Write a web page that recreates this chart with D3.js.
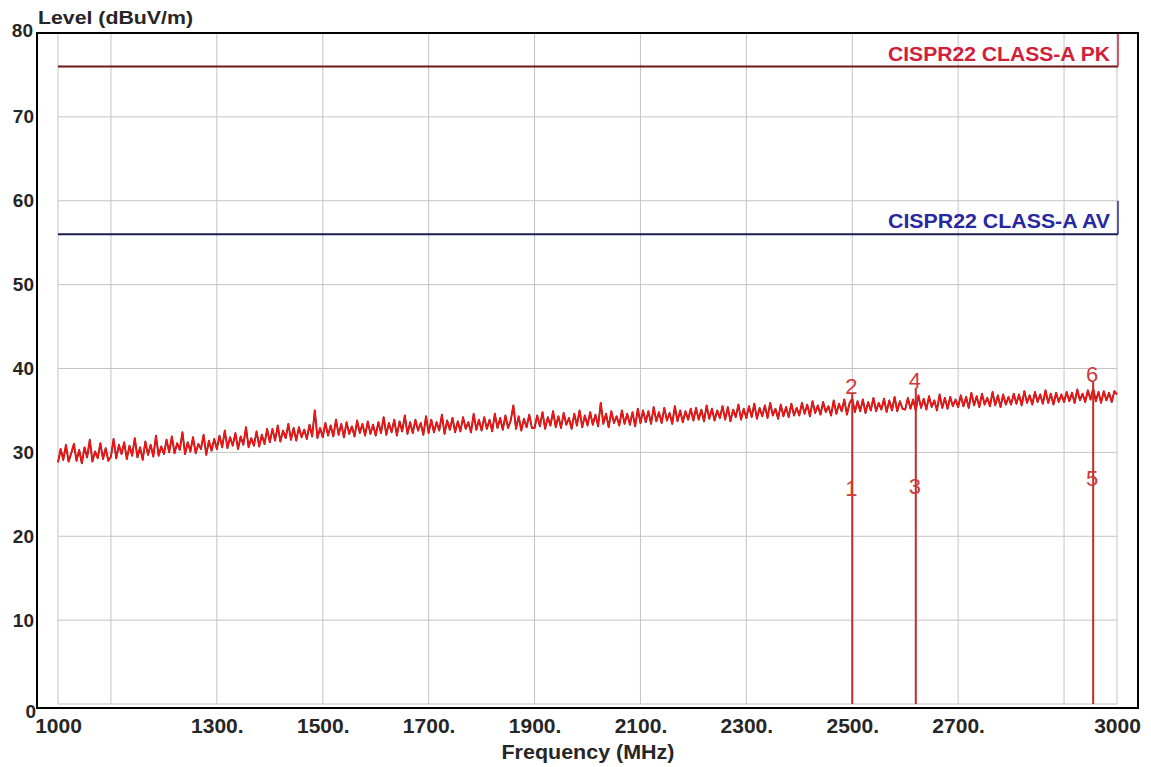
<!DOCTYPE html>
<html>
<head>
<meta charset="utf-8">
<script src="https://cdn.jsdelivr.net/npm/d3@7"></script>
<style>
  body { margin: 0; background: #fff; }
  svg { display: block; font-family: Arial, "Liberation Sans", sans-serif; }
</style>
</head>
<body>
<div id="chart_div"></div>
<script>
// x tick labels and grid positions (MHz)
var freqTicks = [1000, 1300, 1500, 1700, 1900, 2100, 2300, 2500, 2700, 3000];
var freqGrid = [1000, 1100, 1300, 1500, 1700, 1900, 2100, 2300, 2500, 2700, 2900, 3000];
var levelTicks = [0, 10, 20, 30, 40, 50, 60, 70, 80];

// limit lines
var limitNames = ['CISPR22 CLASS-A PK', 'CISPR22 CLASS-A AV'];
var limitLevels = [76, 56];
var limitLineColors = ['#6b1818', '#1c1c55'];
var limitTextColors = ['#d0203a', '#2828a0'];

// markers
var markerNo = [1, 2, 3, 4, 5, 6];
var markerFreq = [2500, 2500, 2620, 2620, 2955, 2955];
var markerLevel = [24.8, 37.0, 25.0, 37.7, 26.0, 38.4];

// measured trace, 1000..3000 MHz in 5 MHz steps
var traceStart = 1000, traceStep = 5;
var traceLevel = [
  28.8, 30.4, 29.1, 30.9, 28.9, 29.9, 31.0, 29.0, 30.3, 28.7, 30.6, 29.4, 31.5, 28.9, 30.1, 29.3, 31.1, 29.2, 30.5, 29.0,
  29.5, 31.6, 29.3, 30.9, 29.8, 31.2, 29.2, 30.8, 29.6, 31.7, 29.4, 30.6, 29.1, 31.3, 29.7, 30.9, 29.5, 32.0, 29.6, 30.7,
  29.8, 31.5, 30.0, 31.9, 29.9, 31.1, 30.3, 32.4, 29.8, 31.2, 30.1, 31.8, 29.9, 31.0, 30.4, 32.1, 29.7, 31.4, 30.2, 31.6,
  30.4, 32.0, 30.6, 32.6, 30.5, 31.8, 30.8, 32.3, 30.4, 31.9, 30.9, 33.0, 30.6, 31.7, 30.8, 32.5, 30.7, 32.1, 31.0, 32.8,
  31.2, 32.8, 31.4, 33.2, 31.3, 32.6, 31.7, 33.4, 31.5, 32.9, 31.4, 33.0, 31.8, 32.7, 31.6, 33.3, 31.9, 35.0, 31.7, 32.9,
  31.8, 33.5, 32.0, 33.2, 31.9, 33.9, 32.1, 33.4, 31.8, 33.6, 32.2, 33.1, 31.9, 33.8, 32.3, 33.4, 32.0, 33.7, 32.2, 33.3,
  32.0, 33.6, 32.3, 34.2, 32.1, 33.5, 32.4, 33.9, 32.0, 33.7, 32.5, 34.4, 32.2, 33.6, 32.3, 33.9, 32.6, 33.5, 32.1, 34.3,
  32.3, 33.9, 32.4, 33.6, 32.6, 34.5, 32.2, 33.8, 32.7, 34.1, 32.4, 33.7, 32.5, 34.2, 32.8, 33.6, 32.4, 34.6, 32.7, 33.9,
  32.6, 34.2, 32.8, 33.9, 32.5, 34.6, 32.9, 34.1, 32.7, 34.4, 32.9, 33.8, 35.6, 32.8, 34.3, 32.6, 34.0, 33.0, 34.5, 32.9,
  32.9, 34.4, 33.1, 34.8, 32.8, 34.2, 33.2, 34.9, 33.0, 34.3, 32.9, 34.7, 33.3, 34.1, 32.8, 34.6, 33.2, 35.0, 33.0, 34.4,
  33.2, 34.8, 33.3, 34.5, 33.1, 35.9, 33.4, 34.6, 33.0, 34.9, 33.5, 34.3, 33.2, 35.0, 33.4, 34.6, 33.3, 34.8, 33.1, 35.2,
  33.5, 35.0, 33.6, 34.9, 33.4, 35.4, 33.7, 34.8, 33.5, 35.3, 33.8, 34.7, 33.4, 35.5, 33.7, 35.0, 33.6, 34.9, 33.9, 35.2,
  33.8, 35.3, 33.9, 35.1, 33.7, 35.6, 34.0, 35.2, 33.8, 35.0, 34.1, 35.5, 33.9, 35.4, 33.7, 35.1, 34.2, 35.7, 33.9, 35.2,
  34.1, 35.5, 34.2, 35.8, 34.0, 35.3, 34.3, 35.6, 34.1, 35.9, 34.4, 35.2, 34.0, 35.7, 34.3, 35.4, 34.2, 35.8, 34.4, 35.3,
  34.4, 35.9, 34.6, 35.7, 34.3, 36.1, 34.7, 35.6, 34.5, 36.0, 34.8, 35.5, 34.4, 36.2, 34.6, 35.8, 34.9, 36.3, 34.5, 35.9,
  36.4, 34.8, 36.1, 34.9, 36.3, 34.7, 36.0, 35.0, 36.5, 34.9, 35.9, 35.1, 36.4, 34.8, 36.2, 35.0, 36.6, 34.9, 36.1, 35.2,
  35.1, 36.5, 35.2, 36.3, 35.0, 36.8, 35.3, 36.4, 35.1, 36.7, 35.4, 36.2, 35.0, 36.9, 35.3, 36.5, 35.2, 36.6, 35.5, 36.3,
  35.4, 36.8, 35.5, 36.6, 35.3, 37.1, 35.6, 36.7, 35.4, 37.0, 35.7, 36.5, 35.5, 37.2, 35.6, 36.8, 35.4, 36.9, 35.7, 36.6,
  35.7, 37.0, 35.8, 36.9, 35.6, 37.3, 35.9, 36.8, 35.7, 37.2, 36.0, 36.9, 35.8, 37.4, 35.9, 37.0, 35.7, 37.1, 36.0, 36.9,
  36.0, 37.2, 36.1, 37.1, 35.9, 37.5, 36.2, 37.0, 36.0, 37.4, 36.3, 37.6, 36.1, 37.2, 35.9, 37.3, 36.2, 37.1, 36.0, 37.3,
  36.9
];

function draw_emc(){
  var W = 1151, H = 767;
  var frame = {left: 37, right: 1138, top: 33, bottom: 708};

  var xScale = d3.scaleLinear().domain([1000, 3000]).range([58, 1117]);
  var yScale = d3.scaleLinear().domain([0, 80]).range([704, 33]);

  var svg = d3.select('#chart_div').append('svg')
    .attr('width', W)
    .attr('height', H);

  svg.append('rect').attr('width', W).attr('height', H).attr('fill', '#fff');

  // grid
  var grid = svg.append('g').attr('class', 'grid');
  grid.selectAll('line.vgrid')
    .data(freqGrid)
    .enter().append('line')
    .attr('class', 'vgrid')
    .attr('x1', function(d){ return xScale(d); })
    .attr('x2', function(d){ return xScale(d); })
    .attr('y1', yScale(80))
    .attr('y2', yScale(0))
    .style('stroke', '#c4c4c4')
    .style('stroke-width', 1);

  grid.selectAll('line.hgrid')
    .data(levelTicks.slice(0, -1))
    .enter().append('line')
    .attr('class', 'hgrid')
    .attr('x1', xScale(1000))
    .attr('x2', xScale(3000))
    .attr('y1', function(d){ return yScale(d); })
    .attr('y2', function(d){ return yScale(d); })
    .style('stroke', '#c4c4c4')
    .style('stroke-width', 1);

  // limit lines and labels
  limitLevels.forEach(function(v, i){
    var yv = yScale(v);
    svg.append('line')
      .attr('x1', xScale(1000)).attr('x2', xScale(3000) + 1)
      .attr('y1', yv).attr('y2', yv)
      .style('stroke', limitLineColors[i])
      .style('stroke-width', 2);

    svg.append('line')
      .attr('x1', xScale(3000) + 1).attr('x2', xScale(3000) + 1)
      .attr('y1', yv).attr('y2', i == 0 ? yScale(80) : yScale(60))
      .style('stroke', limitTextColors[i])
      .style('stroke-width', 1.5);

    svg.append('text')
      .attr('x', xScale(3000) - 7)
      .attr('y', yv - 6)
      .attr('text-anchor', 'end')
      .attr('font-size', '20px')
      .attr('font-weight', 'bold')
      .attr('textLength', 222)
      .attr('lengthAdjust', 'spacingAndGlyphs')
      .style('fill', limitTextColors[i])
      .text(limitNames[i]);
  });

  // trace
  var trace = traceLevel.map(function(v, i){ return {f: traceStart + i * traceStep, v: v}; });
  var traceLine = d3.line()
    .x(function(d){ return xScale(d.f); })
    .y(function(d){ return yScale(d.v); });

  svg.append('path')
    .datum(trace)
    .attr('d', traceLine)
    .attr('fill', 'none')
    .style('stroke', '#8a1616')
    .style('stroke-width', 1.9)
    .style('stroke-linejoin', 'round');

  svg.append('path')
    .datum(trace)
    .attr('d', traceLine)
    .attr('fill', 'none')
    .style('stroke', '#ff1212')
    .style('stroke-width', 1.3)
    .style('stroke-linejoin', 'round');

  // markers: one line per frequency up to the highest reading
  var markers = markerNo.map(function(n, i){ return {n: n, f: markerFreq[i], v: markerLevel[i]}; });
  var peaks = markers.filter(function(d){ return d.n % 2 == 0; });

  svg.selectAll('line.marker')
    .data(peaks)
    .enter().append('line')
    .attr('class', 'marker')
    .attr('x1', function(d){ return xScale(d.f); })
    .attr('x2', function(d){ return xScale(d.f); })
    .attr('y1', yScale(0))
    .attr('y2', function(d){ return yScale(d.v); })
    .style('stroke', '#c42a2a')
    .style('stroke-width', 2);

  svg.selectAll('text.marker')
    .data(markers)
    .enter().append('text')
    .attr('class', 'marker')
    .attr('x', function(d){ return xScale(d.f) - 1; })
    .attr('y', function(d){ return yScale(d.v); })
    .attr('text-anchor', 'middle')
    .attr('font-size', '22px')
    .style('fill', '#d03a3a')
    .text(function(d){ return d.n; });

  // frame
  svg.append('rect')
    .attr('x', frame.left)
    .attr('y', frame.top)
    .attr('width', frame.right - frame.left)
    .attr('height', frame.bottom - frame.top)
    .attr('fill', 'none')
    .style('stroke', '#000')
    .style('stroke-width', 2);

  // x axis
  var xAxis = svg.append('g')
    .attr('class', 'xaxis')
    .attr('transform', 'translate(0,' + frame.bottom + ')')
    .call(d3.axisBottom(xScale).tickValues(freqTicks).tickSize(0).tickPadding(10)
      .tickFormat(function(d){ return (d == 1000 || d == 3000) ? String(d) : d + '.'; }));

  xAxis.selectAll('text')
    .style('fill', '#262626')
    .style('font-size', '21px')
    .style('font-weight', 'bold')
    .style('font-family', 'Arial, "Liberation Sans", sans-serif');

  // y axis
  var yAxis = svg.append('g')
    .attr('class', 'yaxis')
    .attr('transform', 'translate(' + frame.left + ',0)')
    .call(d3.axisLeft(yScale).tickValues(levelTicks).tickSize(0).tickPadding(3));

  yAxis.selectAll('text')
    .style('fill', '#262626')
    .style('font-size', '19px')
    .style('font-weight', 'bold')
    .style('font-family', 'Arial, "Liberation Sans", sans-serif');

  yAxis.selectAll('.tick').each(function(d){
    if (d == 0) d3.select(this).select('text').attr('dy', '0.7em').attr('x', -1);
    if (d == 80) d3.select(this).select('text').attr('dy', '0.2em').attr('x', -4);
  });

  svg.selectAll('path.domain').style('stroke', 'none');

  // axis titles
  svg.append('text')
    .attr('x', 38)
    .attr('y', 24)
    .attr('font-size', '19px')
    .attr('font-weight', 'bold')
    .attr('textLength', 155)
    .attr('lengthAdjust', 'spacingAndGlyphs')
    .style('fill', '#262626')
    .text('Level (dBuV/m)');

  svg.append('text')
    .attr('x', 588)
    .attr('y', 759)
    .attr('text-anchor', 'middle')
    .attr('font-size', '20px')
    .attr('font-weight', 'bold')
    .attr('textLength', 173)
    .attr('lengthAdjust', 'spacingAndGlyphs')
    .style('fill', '#262626')
    .text('Frequency (MHz)');
}

draw_emc();
</script>
</body>
</html>
